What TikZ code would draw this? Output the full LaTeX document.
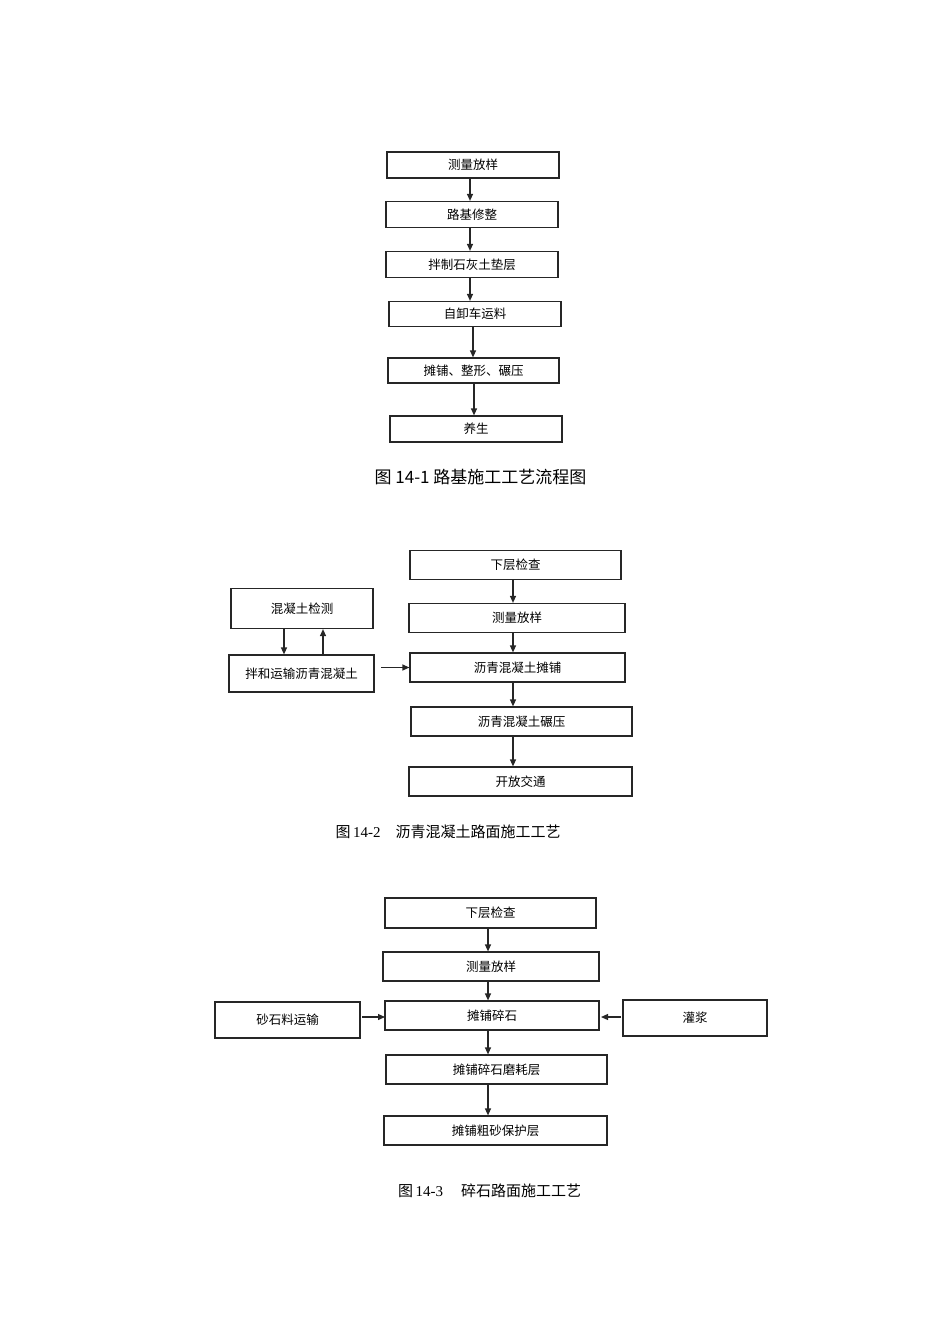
\documentclass[tikz,border=0pt]{standalone}
\usepackage{fontspec}
\setmainfont{Liberation Serif}
\newfontfamily\cjk{Noto Sans CJK SC}
\usetikzlibrary{arrows.meta}

\tikzset{
  box/.style={draw=black!85, line width=1.2pt, inner sep=0pt,
    font=\cjk\fontsize{12.5}{14}\selectfont},
  arr/.style={draw=black!85, line width=1.2pt, -{Triangle[length=7pt,width=6pt]}},
  figcap/.style={inner sep=0pt, font=\fontsize{15}{17}\selectfont}
}

\begin{document}
\begin{tikzpicture}[x=1pt,y=-1pt]
  \useasboundingbox (0,0) rectangle (950,1344);
  \node[box, minimum width=172pt, minimum height=26pt] (a1) at (473,165) {测量放样};
  \node[box, minimum width=172pt, minimum height=26pt] (a2) at (472,214.5) {路基修整};
  \node[box, minimum width=172pt, minimum height=26pt] (a3) at (472,264.5) {拌制石灰土垫层};
  \node[box, minimum width=172pt, minimum height=25pt] (a4) at (475,314) {自卸车运料};
  \node[box, minimum width=171pt, minimum height=25pt] (a5) at (473.5,370.5) {摊铺、整形、碾压};
  \node[box, minimum width=172pt, minimum height=26pt] (a6) at (476,429) {养生};
  \draw[arr] (a1.south -| 470,0) -- (a2.north -| 470,0);
  \draw[arr] (a2.south -| 470,0) -- (a3.north -| 470,0);
  \draw[arr] (a3.south -| 470,0) -- (a4.north -| 470,0);
  \draw[arr] (a4.south -| 473,0) -- (a5.north -| 473,0);
  \draw[arr] (a5.south -| 474,0) -- (a6.north -| 474,0);
  \node[figcap, font=\cjk\fontsize{17}{19}\selectfont] (cap1) at (480.5,477) {图 14-1 路基施工工艺流程图};

  \node[box, minimum width=211pt, minimum height=29pt] (b1) at (515.5,565) {下层检查};
  \node[box, minimum width=216pt, minimum height=29pt] (b2) at (517,618) {测量放样};
  \node[box, minimum width=215pt, minimum height=29pt] (b3) at (517.5,667.5) {沥青混凝土摊铺};
  \node[box, minimum width=221pt, minimum height=29pt] (b4) at (521.5,721.5) {沥青混凝土碾压};
  \node[box, minimum width=223pt, minimum height=29pt] (b5) at (520.5,781.5) {开放交通};
  \node[box, minimum width=142pt, minimum height=40pt] (c1) at (302,608.5) {混凝土检测};
  \node[box, minimum width=145pt, minimum height=37pt] (c2) at (301.5,673.5) {拌和运输沥青混凝土};
  \coordinate (c2e) at (381,667.5);
  \draw[arr] (b1.south -| 513,0) -- (b2.north -| 513,0);
  \draw[arr] (b2.south -| 513,0) -- (b3.north -| 513,0);
  \draw[arr] (b3.south -| 513,0) -- (b4.north -| 513,0);
  \draw[arr] (b4.south -| 513,0) -- (b5.north -| 513,0);
  \draw[arr] (c1.south -| 284,0) -- (c2.north -| 284,0);
  \draw[arr] (c2.north -| 323,0) -- (c1.south -| 323,0);
  \draw[arr] (c2e) -- (b3.west);
  \node[figcap] (cap2) at (448,832) {{\cjk 图}\,14-2\hspace{15pt}{\cjk 沥青混凝土路面施工工艺}};

  \node[box, minimum width=211pt, minimum height=30pt] (d1) at (490.5,913) {下层检查};
  \node[box, minimum width=216pt, minimum height=29pt] (d2) at (491,966.5) {测量放样};
  \node[box, minimum width=214pt, minimum height=29pt] (d3) at (492,1015.5) {摊铺碎石};
  \node[box, minimum width=221pt, minimum height=29pt] (d4) at (496.5,1069.5) {摊铺碎石磨耗层};
  \node[box, minimum width=223pt, minimum height=29pt] (d5) at (495.5,1130.5) {摊铺粗砂保护层};
  \node[box, minimum width=145pt, minimum height=36pt] (e1) at (287.5,1020) {砂石料运输};
  \node[box, minimum width=144pt, minimum height=36pt] (e2) at (695,1018) {灌浆};
  \coordinate (e1e) at (362,1017);
  \coordinate (e2e) at (621,1017);
  \coordinate (d3w) at (385,1017);
  \coordinate (d3e) at (601,1017);
  \draw[arr] (d1.south -| 488,0) -- (d2.north -| 488,0);
  \draw[arr] (d2.south -| 488,0) -- (d3.north -| 488,0);
  \draw[arr] (d3.south -| 488,0) -- (d4.north -| 488,0);
  \draw[arr] (d4.south -| 488,0) -- (d5.north -| 488,0);
  \draw[arr] (e1e) -- (d3w);
  \draw[arr] (e2e) -- (d3e);
  \node[figcap] (cap3) at (489.5,1191) {{\cjk 图}\,14-3\hspace{18pt}{\cjk 碎石路面施工工艺}};
\end{tikzpicture}
\end{document}
